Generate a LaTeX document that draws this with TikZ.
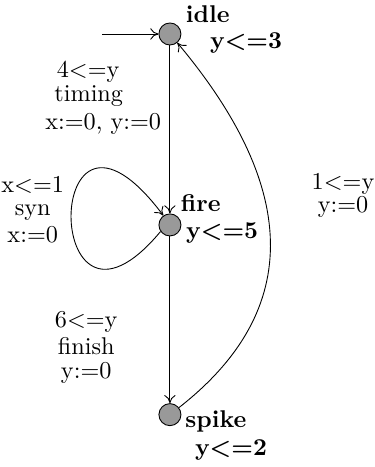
\documentclass[tikz,border=0pt,11pt]{standalone}
\usepackage{fontspec}
\usetikzlibrary{positioning,arrows.meta,calc}

\begin{document}
\begin{tikzpicture}[
  node distance=26.7mm,
  stat/.style={circle, draw, fill=gray!80, minimum size=3.5mm, inner sep=0pt},
  nm/.style={font=\bfseries, inner sep=0pt},
  lbl/.style={inner sep=0pt},
  pil/.style={-{To[length=1.3mm, width=1.8mm]}, thin}
]
\node[stat] (idle) {};
\node[stat, below=of idle] (fire) {};
\node[stat, below=26.5mm of fire] (spike) {};
\useasboundingbox ($(idle)+(-27mm,5.4mm)$) rectangle ($(idle)+(32.5mm,-68.8mm)$);

% locations: name and invariant
\node[nm] (idlenm) at ($(idle)+(6.0mm,3.2mm)$) {idle};
\node[nm] (idleinv) at ($(idle)+(12.1mm,-1.4mm)$) {y<=3};
\node[nm] (firenm) at ($(fire)+(4.9mm,3.5mm)$) {fire};
\node[nm] (fireinv) at ($(fire)+(8.3mm,-1.3mm)$) {y<=5};
\node[nm] (spikenm) at ($(spike)+(7.3mm,-1.1mm)$) {spike};
\node[nm] (spikeinv) at ($(spike)+(9.7mm,-5.6mm)$) {y<=2};

% transitions
\coordinate[left=8.9mm of idle] (init);
\draw[pil] (init) -- (idle);
\draw[pil] (idle) -- (fire);
\draw[pil] (fire) -- (spike);
\draw[pil] (fire.215) .. controls +(-19mm,-22.8mm) and +(-19.5mm,26mm) .. (fire.125);
\draw[pil] (spike) to[out=38, in=-50, looseness=1.2] (idle);

% guards, syncs, updates
\node[lbl] (g1) at ($(idle)+(-13.0mm,-6.0mm)$) {4<=y};
\node[lbl] (s1) at ($(idle)+(-12.9mm,-9.8mm)$) {timing};
\node[lbl] (u1) at ($(idle)+(-10.6mm,-14.3mm)$) {x:=0, y:=0};
\node[lbl] (g2) at ($(fire)+(-21.8mm,6.3mm)$) {x<=1};
\node[lbl] (s2) at ($(fire)+(-21.8mm,1.9mm)$) {syn};
\node[lbl] (u2) at ($(fire)+(-21.8mm,-1.6mm)$) {x:=0};
\node[lbl] (g3) at ($(fire)+(-13.3mm,-15.4mm)$) {6<=y};
\node[lbl] (s3) at ($(fire)+(-13.3mm,-19.2mm)$) {finish};
\node[lbl] (u3) at ($(fire)+(-13.3mm,-23.5mm)$) {y:=0};
\node[lbl] (g4) at ($(fire)+(27.5mm,6.5mm)$) {1<=y};
\node[lbl] (u4) at ($(fire)+(27.5mm,2.9mm)$) {y:=0};
\end{tikzpicture}
\end{document}
